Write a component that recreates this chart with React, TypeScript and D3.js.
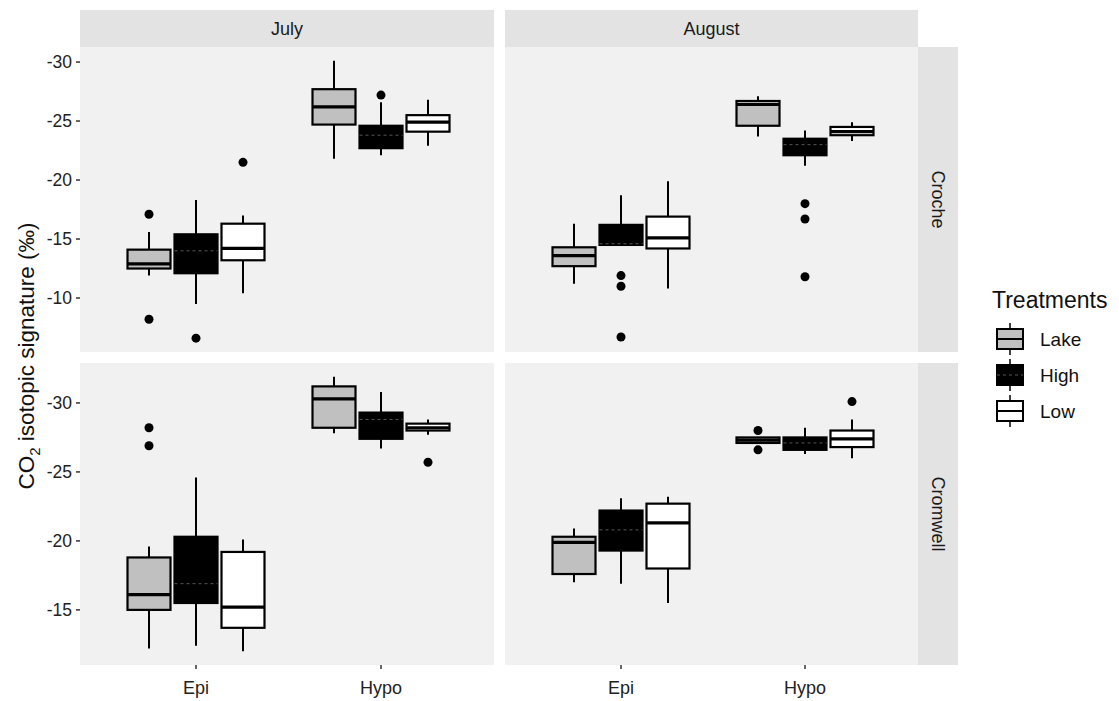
import React from "react";
import * as d3 from "d3";

// ---------- data ----------
const months = ["July", "August"];
const lakes = ["Croche", "Cromwell"];
const layers = ["Epi", "Hypo"];
const treatments = ["Lake", "High", "Low"];

// box stats: [lower whisker, Q1, median, Q3, upper whisker] (numeric order), per layer (Epi, Hypo) x treatment (Lake, High, Low)
const crocheJuly = [
  [[-15.6, -14.1, -12.9, -12.5, -11.9], [-18.3, -15.4, -14.0, -12.1, -9.5], [-17.0, -16.3, -14.2, -13.2, -10.4]],
  [[-30.1, -27.7, -26.2, -24.7, -21.8], [-26.6, -24.6, -23.8, -22.7, -22.1], [-26.8, -25.5, -24.9, -24.1, -22.9]],
];
const crocheJulyOutliers = [
  [[-17.1, -8.2], [-6.6], [-21.5]],
  [[], [-27.2], []],
];
const crocheAugust = [
  [[-16.3, -14.3, -13.6, -12.7, -11.2], [-18.7, -16.2, -14.6, -14.5, -14.4], [-19.9, -16.9, -15.1, -14.2, -10.8]],
  [[-27.1, -26.7, -26.4, -24.6, -23.7], [-24.2, -23.5, -23.0, -22.1, -21.2], [-24.9, -24.5, -24.1, -23.8, -23.3]],
];
const crocheAugustOutliers = [
  [[], [-11.9, -11.0, -6.7], []],
  [[], [-18.0, -16.7, -11.8], []],
];
const cromwellJuly = [
  [[-19.6, -18.8, -16.1, -15.0, -12.2], [-24.6, -20.3, -16.9, -15.5, -12.4], [-20.1, -19.2, -15.2, -13.7, -12.0]],
  [[-31.9, -31.2, -30.3, -28.2, -27.8], [-30.8, -29.3, -28.8, -27.4, -26.7], [-28.8, -28.5, -28.2, -28.0, -27.7]],
];
const cromwellJulyOutliers = [
  [[-28.2, -26.9], [], []],
  [[], [], [-25.7]],
];
const cromwellAugust = [
  [[-20.9, -20.3, -19.9, -17.6, -17.0], [-23.1, -22.2, -20.8, -19.3, -16.9], [-23.2, -22.7, -21.3, -18.0, -15.5]],
  [[-27.5, -27.5, -27.3, -27.1, -27.1], [-28.2, -27.5, -27.1, -26.6, -26.3], [-28.8, -28.0, -27.4, -26.8, -26.0]],
];
const cromwellAugustOutliers = [
  [[], [], []],
  [[-28.0, -26.6], [], [-30.1]],
];

const crocheTicks = [-30, -25, -20, -15, -10];
const cromwellTicks = [-30, -25, -20, -15];

const stats = [[crocheJuly, crocheAugust], [cromwellJuly, cromwellAugust]];
const outliers = [[crocheJulyOutliers, crocheAugustOutliers], [cromwellJulyOutliers, cromwellAugustOutliers]];
const yTicks = [crocheTicks, cromwellTicks];

// ---------- styles ----------
const fills: Record<string, string> = { Lake: "#c0c0c0", High: "#000000", Low: "#ffffff" };
const FONT = "'Liberation Sans', Arial, sans-serif";
const panelBg = "#f1f1f1";
const stripBg = "#e3e3e3";

const colX = [[80, 494], [505, 918]];
const rowY = [[47, 352], [363, 665]];
const stripTop = 10;
const stripRight = [918, 958];

function rowDomain(r: number): [number, number] {
  const vals: number[] = [];
  stats[r].forEach((m) => m.forEach((l) => l.forEach((b) => vals.push(...b))));
  outliers[r].forEach((m) => m.forEach((l) => l.forEach((o) => vals.push(...o))));
  const [lo, hi] = d3.extent(vals) as [number, number];
  const pad = (hi - lo) * 0.05;
  return [lo - pad, hi + pad];
}

export default function App() {
  const dodge = 47;
  const boxW = 43;

  const panels: React.ReactNode[] = [];
  lakes.forEach((lake, r) => {
    const [top, bottom] = rowY[r];
    const y = d3.scaleLinear().domain(rowDomain(r)).range([top, bottom]);
    months.forEach((month, c) => {
      const [left, right] = colX[c];
      const x = d3.scalePoint<string>().domain(layers).range([left + 116, right - 113]);
      const items: React.ReactNode[] = [];
      layers.forEach((layer, li) => {
        treatments.forEach((t, ti) => {
          const s = stats[r][c][li][ti];
          const cx = (x(layer) as number) + (ti - 1) * dodge;
          const [wLo, q1, med, q3, wHi] = s;
          const key = `${r}-${c}-${li}-${ti}`;
          items.push(
            <g key={key}>
              <line x1={cx} x2={cx} y1={y(wLo)} y2={y(q1)} stroke="#000" strokeWidth={2} />
              <line x1={cx} x2={cx} y1={y(q3)} y2={y(wHi)} stroke="#000" strokeWidth={2} />
              <rect x={cx - boxW / 2} y={y(q1)} width={boxW} height={Math.max(y(q3) - y(q1), 1)} fill={fills[t]} stroke="#000" strokeWidth={2.2} />
              <line
                x1={cx - boxW / 2}
                x2={cx + boxW / 2}
                y1={y(med)}
                y2={y(med)}
                stroke={t === "High" ? "#555" : "#000"}
                strokeWidth={t === "High" ? 1 : 3.2}
                strokeDasharray={t === "High" ? "3,3" : undefined}
              />
              {outliers[r][c][li][ti].map((o, oi) => (
                <circle key={oi} cx={cx} cy={y(o)} r={4.5} fill="#000" />
              ))}
            </g>
          );
        });
      });
      panels.push(
        <g key={`p-${r}-${c}`}>
          <rect x={left} y={top} width={right - left} height={bottom - top} fill={panelBg} />
          {items}
          {r === 1 &&
            layers.map((layer) => (
              <g key={layer}>
                <line x1={x(layer)} x2={x(layer)} y1={bottom} y2={bottom + 4} stroke="#333" strokeWidth={1.5} />
                <text x={x(layer)} y={bottom + 29} textAnchor="middle" fontSize={18} fill="#222" fontFamily={FONT}>
                  {layer}
                </text>
              </g>
            ))}
          {c === 0 &&
            yTicks[r].map((tv) => (
              <g key={tv}>
                <line x1={left - 4} x2={left} y1={y(tv)} y2={y(tv)} stroke="#333" strokeWidth={1.5} />
                <text x={left - 8} y={y(tv)} dy="0.35em" textAnchor="end" fontSize={17.5} fill="#222" fontFamily={FONT}>
                  {tv}
                </text>
              </g>
            ))}
        </g>
      );
    });
  });

  const strips = (
    <g>
      {months.map((m, c) => (
        <g key={m}>
          <rect x={colX[c][0]} y={stripTop} width={colX[c][1] - colX[c][0]} height={rowY[0][0] - stripTop} fill={stripBg} />
          <text x={(colX[c][0] + colX[c][1]) / 2} y={(stripTop + rowY[0][0]) / 2} dy="0.35em" textAnchor="middle" fontSize={18} fill="#1a1a1a" fontFamily={FONT}>
            {m}
          </text>
        </g>
      ))}
      {lakes.map((l, r) => {
        const cx = (stripRight[0] + stripRight[1]) / 2;
        const cy = (rowY[r][0] + rowY[r][1]) / 2;
        return (
          <g key={l}>
            <rect x={stripRight[0]} y={rowY[r][0]} width={stripRight[1] - stripRight[0]} height={rowY[r][1] - rowY[r][0]} fill={stripBg} />
            <text x={cx} y={cy} dy="0.35em" textAnchor="middle" fontSize={18} fill="#1a1a1a" fontFamily={FONT} transform={`rotate(90, ${cx}, ${cy})`}>
              {l}
            </text>
          </g>
        );
      })}
    </g>
  );

  const legendX = 997;
  const legendY0 = 339;
  const legendStep = 36;
  const legend = (
    <g>
      <text x={992} y={308} fontSize={23} fill="#111" fontFamily={FONT}>
        Treatments
      </text>
      {treatments.map((t, i) => {
        const cy = legendY0 + i * legendStep;
        const kx = legendX + 13;
        return (
          <g key={t}>
            <line x1={kx} x2={kx} y1={cy - 16} y2={cy + 16} stroke="#000" strokeWidth={1.5} />
            <rect x={legendX} y={cy - 10} width={26} height={20} fill={fills[t]} stroke="#000" strokeWidth={2} />
            <line x1={legendX} x2={legendX + 26} y1={cy} y2={cy} stroke={t === "High" ? "#555" : "#000"} strokeWidth={t === "High" ? 1 : 2} strokeDasharray={t === "High" ? "3,3" : undefined} />
            <text x={1040} y={cy} dy="0.35em" fontSize={19} fill="#111" fontFamily={FONT}>
              {t}
            </text>
          </g>
        );
      })}
    </g>
  );

  const yTitleX = 26;
  const yTitleY = (rowY[0][0] + rowY[1][1]) / 2;

  return (
    <svg width={1119} height={701} style={{ position: "absolute", left: 0, top: 0, background: "#fff" }}>
      <rect width={1119} height={701} fill="#fff" />
      {strips}
      {panels}
      <text x={yTitleX} y={yTitleY} textAnchor="middle" fontSize={22.5} fill="#111" fontFamily={FONT} transform={`rotate(-90, ${yTitleX}, ${yTitleY})`} dy="0.35em">
        CO<tspan fontSize={15} dy="6">2</tspan>
        <tspan dy="-6"> isotopic signature (‰)</tspan>
      </text>
      {legend}
    </svg>
  );
}
